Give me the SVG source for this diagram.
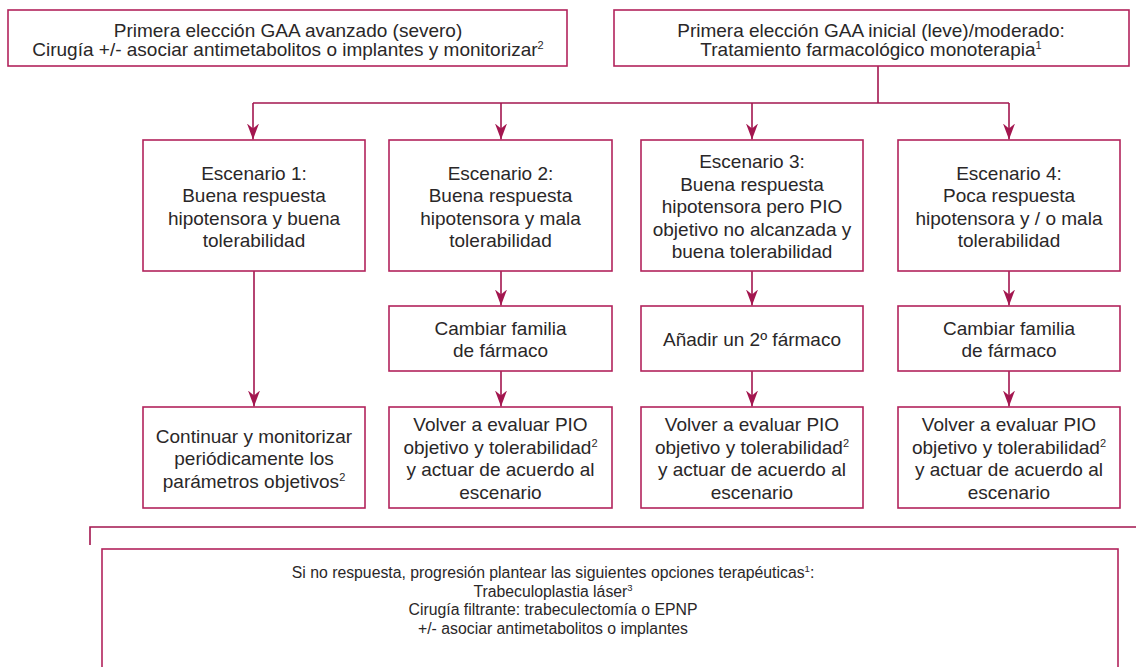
<svg xmlns="http://www.w3.org/2000/svg" width="1136" height="667" viewBox="0 0 1136 667">
<style>
.box{fill:#fff;stroke:#b2235c;stroke-width:1.6}
.ln{fill:none;stroke:#a3164f;stroke-width:1.6}
.t{font-family:"Liberation Sans",Arial,sans-serif;font-size:19px;fill:#2a2728;text-anchor:middle}
.s{font-family:"Liberation Sans",Arial,sans-serif;font-size:15.8px;fill:#2a2728;text-anchor:middle}
.sup{font-size:11px}
.sups{font-size:9.5px}
</style>
<defs>
<marker id="ah" viewBox="0 0 16 12" refX="16" refY="6" markerWidth="16" markerHeight="12" markerUnits="userSpaceOnUse" orient="auto">
<path d="M0,0 L16,6 L0,12 L5,6 Z" fill="#a3164f"/>
</marker>
</defs>
<rect width="1136" height="667" fill="#fff"/>
<g id="connectors">
<path class="ln" d="M878,66 V103"/>
<path class="ln" d="M253,103 H1009"/>
<path class="ln" d="M253,103 V139.5" marker-end="url(#ah)"/>
<path class="ln" d="M501,103 V139.5" marker-end="url(#ah)"/>
<path class="ln" d="M752,103 V139.5" marker-end="url(#ah)"/>
<path class="ln" d="M1009,103 V139.5" marker-end="url(#ah)"/>
<path class="ln" d="M254,271 V406.5" marker-end="url(#ah)"/>
<path class="ln" d="M501,271 V305.5" marker-end="url(#ah)"/>
<path class="ln" d="M752,271 V305.5" marker-end="url(#ah)"/>
<path class="ln" d="M1009,271 V305.5" marker-end="url(#ah)"/>
<path class="ln" d="M501,371 V406.5" marker-end="url(#ah)"/>
<path class="ln" d="M752,371 V406.5" marker-end="url(#ah)"/>
<path class="ln" d="M1009,371 V406.5" marker-end="url(#ah)"/>
<path class="ln" d="M90,545 V527 H1136"/>
</g>
<g id="n_avanzado">
<rect class="box" x="8" y="10" width="559" height="56"/>
<text class="t" x="288" y="36.5">Primera elección GAA avanzado (severo)</text>
<text class="t" x="288" y="56">Cirugía +/- asociar antimetabolitos o implantes y monitorizar<tspan class="sup" dy="-7">2</tspan></text>
</g>
<g id="n_inicial">
<rect class="box" x="614" y="10" width="515" height="56"/>
<text class="t" x="871" y="36.5">Primera elección GAA inicial (leve)/moderado:</text>
<text class="t" x="871" y="56">Tratamiento farmacológico monoterapia<tspan class="sup" dy="-7">1</tspan></text>
</g>
<g id="n_esc1">
<rect class="box" x="143" y="140" width="222" height="131"/>
<text class="t" x="254" y="179.5">Escenario 1:</text>
<text class="t" x="254" y="202">Buena respuesta</text>
<text class="t" x="254" y="224.5">hipotensora y buena</text>
<text class="t" x="254" y="247">tolerabilidad</text>
</g>
<g id="n_esc2">
<rect class="box" x="389" y="140" width="223" height="131"/>
<text class="t" x="500.5" y="179.5">Escenario 2:</text>
<text class="t" x="500.5" y="202">Buena respuesta</text>
<text class="t" x="500.5" y="224.5">hipotensora y mala</text>
<text class="t" x="500.5" y="247">tolerabilidad</text>
</g>
<g id="n_esc3">
<rect class="box" x="641" y="140" width="222" height="131"/>
<text class="t" x="752" y="168">Escenario 3:</text>
<text class="t" x="752" y="190.5">Buena respuesta</text>
<text class="t" x="752" y="213">hipotensora pero PIO</text>
<text class="t" x="752" y="235.5">objetivo no alcanzada y</text>
<text class="t" x="752" y="258">buena tolerabilidad</text>
</g>
<g id="n_esc4">
<rect class="box" x="898" y="140" width="222" height="131"/>
<text class="t" x="1009" y="179.5">Escenario 4:</text>
<text class="t" x="1009" y="202">Poca respuesta</text>
<text class="t" x="1009" y="224.5">hipotensora y / o mala</text>
<text class="t" x="1009" y="247">tolerabilidad</text>
</g>
<g id="n_cambiar2">
<rect class="box" x="389" y="306" width="223" height="65"/>
<text class="t" x="500.5" y="334.5">Cambiar familia</text>
<text class="t" x="500.5" y="357">de fármaco</text>
</g>
<g id="n_anadir3">
<rect class="box" x="641" y="306" width="222" height="65"/>
<text class="t" x="752" y="346">Añadir un 2º fármaco</text>
</g>
<g id="n_cambiar4">
<rect class="box" x="898" y="306" width="222" height="65"/>
<text class="t" x="1009" y="334.5">Cambiar familia</text>
<text class="t" x="1009" y="357">de fármaco</text>
</g>
<g id="n_continuar1">
<rect class="box" x="143" y="407" width="222" height="101"/>
<text class="t" x="254" y="442.5">Continuar y monitorizar</text>
<text class="t" x="254" y="465">periódicamente los</text>
<text class="t" x="254" y="487.5">parámetros objetivos<tspan class="sup" dy="-7">2</tspan></text>
</g>
<g id="n_volver2">
<rect class="box" x="389" y="407" width="223" height="101"/>
<text class="t" x="500.5" y="431">Volver a evaluar PIO</text>
<text class="t" x="500.5" y="453.5">objetivo y tolerabilidad<tspan class="sup" dy="-7">2</tspan></text>
<text class="t" x="500.5" y="476">y actuar de acuerdo al</text>
<text class="t" x="500.5" y="498.5">escenario</text>
</g>
<g id="n_volver3">
<rect class="box" x="641" y="407" width="222" height="101"/>
<text class="t" x="752" y="431">Volver a evaluar PIO</text>
<text class="t" x="752" y="453.5">objetivo y tolerabilidad<tspan class="sup" dy="-7">2</tspan></text>
<text class="t" x="752" y="476">y actuar de acuerdo al</text>
<text class="t" x="752" y="498.5">escenario</text>
</g>
<g id="n_volver4">
<rect class="box" x="898" y="407" width="222" height="101"/>
<text class="t" x="1009" y="431">Volver a evaluar PIO</text>
<text class="t" x="1009" y="453.5">objetivo y tolerabilidad<tspan class="sup" dy="-7">2</tspan></text>
<text class="t" x="1009" y="476">y actuar de acuerdo al</text>
<text class="t" x="1009" y="498.5">escenario</text>
</g>
<g id="n_progresion">
<rect class="box" x="102" y="549" width="1016" height="140"/>
<text class="s" x="553" y="578">Si no respuesta, progresión plantear las siguientes opciones terapéuticas<tspan class="sups" dy="-6">1</tspan><tspan dy="6">:</tspan></text>
<text class="s" x="553" y="596.5">Trabeculoplastia láser<tspan class="sups" dy="-6">3</tspan></text>
<text class="s" x="553" y="615">Cirugía filtrante: trabeculectomía o EPNP</text>
<text class="s" x="553" y="633.5">+/- asociar antimetabolitos o implantes</text>
</g>
</svg>
